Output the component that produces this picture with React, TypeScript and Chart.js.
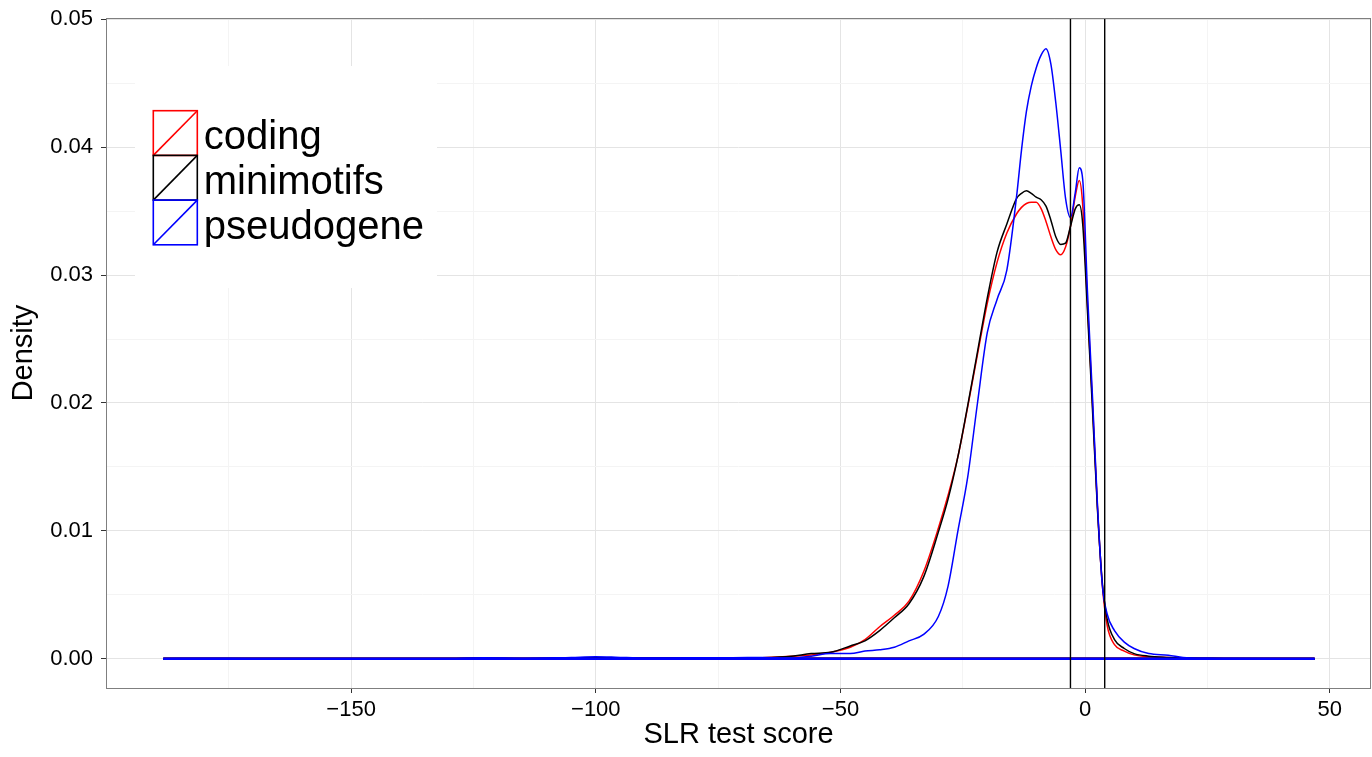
import React, { useEffect, useRef } from 'react';
import { Chart, registerables } from 'chart.js';

Chart.register(...registerables);

// ---- data ----
const xGrid = [
  -188.4, -180, -170, -160, -150, -140, -130, -123, -115, -105, -100, -96, -90, -80, -72, -66,
  -60, -56, -52, -48, -45, -42, -39, -36, -33, -30, -28, -26, -24, -22, -20, -18, -16, -14,
  -13, -12, -11, -10, -9, -8, -7, -6, -5, -4, -3, -2, -1.2, -0.5, 0.5, 1.5, 2.5, 3.5, 4.5,
  6, 8, 10, 13, 17, 20, 25, 30, 40, 46.9,
];

const codingY = [
  0, 0, 0, 0, 0, 0, 0, 0.00003, 0, 0.00005, 0.00008, 0.00008, 0.00003, 0.00004, 0.00005, 0.00008,
  0.0002, 0.0003, 0.0005, 0.0009, 0.0015, 0.0025, 0.0034, 0.0045, 0.0068, 0.0102, 0.0128, 0.0158, 0.0197, 0.0238, 0.0278, 0.031, 0.0333, 0.0348,
  0.0353, 0.0356, 0.0357, 0.0357, 0.0352, 0.0342, 0.033, 0.032, 0.0316, 0.0322, 0.0338, 0.0362, 0.0374, 0.0355, 0.0275, 0.02, 0.012, 0.0058, 0.0026,
  0.0011, 0.0006, 0.0003, 0.00015, 0.0001, 0.00005, 0.00002, 0, 0, 0,
];

const minimotifsY = [
  0, 0, 0, 0, 0, 0, 0, 0.00003, 0, 0.00005, 0.00008, 0.00008, 0.00003, 0.00004, 0.00005, 0.00008,
  0.0002, 0.0004, 0.0005, 0.001, 0.0014, 0.0022, 0.0032, 0.0043, 0.0064, 0.0099, 0.0125, 0.0158, 0.0198, 0.024, 0.0282, 0.0318, 0.034, 0.036,
  0.0364, 0.0366, 0.0364, 0.0361, 0.0359, 0.0354, 0.0343, 0.033, 0.0324, 0.0325, 0.0338, 0.0352, 0.0355, 0.034, 0.027, 0.0195, 0.0118, 0.006, 0.0031,
  0.0015, 0.0008, 0.0004, 0.0002, 0.0001, 0.00005, 0.00002, 0, 0, 0,
];

const pseudogeneY = [
  0, 0.00002, 0, 0, 0, 0, 0, 0.00008, 0.00002, 0.0001, 0.00015, 0.00012, 0.00005, 0.00008, 0.00008, 0.0001,
  0.00005, 0.0002, 0.0004, 0.0004, 0.0006, 0.0007, 0.0009, 0.0014, 0.0019, 0.0033, 0.0057, 0.0100, 0.0142, 0.0200, 0.0255, 0.0281, 0.0304, 0.0362,
  0.0398, 0.0428, 0.0448, 0.0462, 0.0472, 0.0477, 0.0465, 0.0435, 0.0398, 0.036, 0.0345, 0.0365, 0.0384, 0.0375, 0.0285, 0.0205, 0.0122, 0.0058, 0.0035,
  0.0022, 0.0013, 0.0008, 0.0004, 0.00028, 0.0001, 0.00003, 0.00001, 0, 0,
];

const seriesNames = ['coding', 'minimotifs', 'pseudogene'];
const seriesColors = ['#ff0000', '#000000', '#0000ff'];
const vlineX = [-3, 4];
const xMajorTicks = [-150, -100, -50, 0, 50];
const xMinorTicks = [-175, -125, -75, -25, 25];
const yMajorTicks = [0, 0.01, 0.02, 0.03, 0.04, 0.05];
const yMinorTicks = [0.005, 0.015, 0.025, 0.035, 0.045];
const xLimits = [-200.1, 58.42];
const yLimits = [-0.00229, 0.05011];

const FONT = "'Liberation Sans', Arial, Helvetica, sans-serif";

const toPoints = (ys: number[]) => xGrid.map((x, i) => ({ x, y: ys[i] }));

const isMajor = (v: number, majors: number[]) => majors.some((m) => Math.abs(m - v) < 1e-9);

const fmtX = (v: number) => (v < 0 ? '\u2212' + Math.abs(v) : String(v));

const frameAndLegend = {
  id: 'frameAndLegend',
  afterDraw(chart: any) {
    const { ctx, chartArea } = chart;
    const { left, top, right, bottom } = chartArea;
    ctx.save();
    // panel border
    ctx.strokeStyle = '#7f7f7f';
    ctx.lineWidth = 1;
    ctx.strokeRect(left + 0.5, top + 0.5, right - left - 1, bottom - top);
    // legend
    const lx = left + 29;
    const ly = top + 48;
    ctx.fillStyle = '#ffffff';
    ctx.fillRect(lx, ly, 302, 222);
    const kx = left + 47.3;
    const k0 = top + 92.7;
    const kw = 44;
    const kh = 44.7;
    ctx.lineWidth = 1.6;
    ctx.font = `40px ${FONT}`;
    ctx.textBaseline = 'alphabetic';
    ctx.textAlign = 'left';
    seriesNames.forEach((name, i) => {
      const ky = k0 + i * kh;
      ctx.strokeStyle = seriesColors[i];
      ctx.strokeRect(kx, ky, kw, kh);
      ctx.beginPath();
      ctx.moveTo(kx, ky + kh);
      ctx.lineTo(kx + kw, ky);
      ctx.stroke();
      ctx.fillStyle = '#000000';
      ctx.fillText(name, kx + kw + 6.5, ky + 38.6);
    });
    ctx.restore();
  },
};

export default function App() {
  const canvasRef = useRef<HTMLCanvasElement | null>(null);

  useEffect(() => {
    const canvas = canvasRef.current;
    if (!canvas) return;

    const curveSets = [codingY, minimotifsY, pseudogeneY].map((ys, i) => ({
      label: seriesNames[i],
      data: toPoints(ys),
      borderColor: seriesColors[i],
      backgroundColor: seriesColors[i],
      borderWidth: 1.5,
      pointRadius: 0,
      showLine: true,
      fill: false,
      cubicInterpolationMode: 'monotone' as const,
      order: 3 - i + 1,
    }));

    const baselineSets = seriesColors.map((c, i) => ({
      label: 'base' + i,
      data: [
        { x: xGrid[0], y: 0 },
        { x: xGrid[xGrid.length - 1], y: 0 },
      ],
      borderColor: c,
      borderWidth: 2.5,
      pointRadius: 0,
      showLine: true,
      fill: false,
      order: 3 - i + 1,
    }));

    const vlineSets = vlineX.map((vx) => ({
      label: 'v' + vx,
      data: [
        { x: vx, y: yLimits[0] - 1 },
        { x: vx, y: yLimits[1] + 1 },
      ],
      borderColor: '#000000',
      borderWidth: 1.4,
      pointRadius: 0,
      showLine: true,
      fill: false,
      order: 0,
    }));

    const chart = new Chart(canvas, {
      type: 'scatter',
      data: { datasets: [...vlineSets, ...curveSets, ...baselineSets] as any },
      plugins: [frameAndLegend],
      options: {
        responsive: false,
        animation: false,
        layout: { padding: { top: 18, right: 1, bottom: 0, left: 0 } },
        plugins: { legend: { display: false }, tooltip: { enabled: false } },
        scales: {
          x: {
            type: 'linear',
            min: xLimits[0],
            max: xLimits[1],
            afterBuildTicks: (scale: any) => {
              scale.ticks = [...xMinorTicks, ...xMajorTicks]
                .sort((a, b) => a - b)
                .map((v) => ({ value: v }));
            },
            afterFit: (scale: any) => {
              scale.height = 69;
              scale.paddingLeft = 0;
              scale.paddingRight = 0;
            },
            border: { display: false },
            grid: {
              color: (c: any) => (isMajor(c.tick?.value, xMajorTicks) ? '#e4e4e4' : '#f4f4f4'),
              tickColor: (c: any) => (isMajor(c.tick?.value, xMajorTicks) ? '#333333' : 'rgba(0,0,0,0)'),
              tickLength: 5,
              lineWidth: 1,
            },
            ticks: {
              autoSkip: false,
              maxRotation: 0,
              padding: 4,
              color: '#000000',
              font: { family: FONT, size: 22 },
              callback: (v: any) => (isMajor(Number(v), xMajorTicks) ? fmtX(Number(v)) : ''),
            },
            title: {
              display: true,
              text: 'SLR test score',
              color: '#000000',
              font: { family: FONT, size: 29 },
              padding: { top: 0, bottom: 5 },
            },
          },
          y: {
            type: 'linear',
            min: yLimits[0],
            max: yLimits[1],
            afterBuildTicks: (scale: any) => {
              scale.ticks = [...yMajorTicks, ...yMinorTicks]
                .sort((a, b) => a - b)
                .map((v) => ({ value: v }));
            },
            afterFit: (scale: any) => {
              scale.width = 106;
              scale.paddingTop = 0;
              scale.paddingBottom = 0;
            },
            border: { display: false },
            grid: {
              color: (c: any) => (isMajor(c.tick?.value, yMajorTicks) ? '#e4e4e4' : '#f4f4f4'),
              tickColor: (c: any) => (isMajor(c.tick?.value, yMajorTicks) ? '#333333' : 'rgba(0,0,0,0)'),
              tickLength: 5,
              lineWidth: 1,
            },
            ticks: {
              autoSkip: false,
              padding: 8,
              color: '#000000',
              font: { family: FONT, size: 22 },
              callback: (v: any) => (isMajor(Number(v), yMajorTicks) ? Number(v).toFixed(2) : ''),
            },
            title: {
              display: true,
              text: 'Density',
              color: '#000000',
              font: { family: FONT, size: 29 },
              padding: { top: 7, bottom: 0 },
            },
          },
        },
      } as any,
    });

    return () => {
      chart.destroy();
    };
  }, []);

  return (
    <div style={{ position: 'fixed', left: 0, top: 0, width: 1372, height: 757, background: '#ffffff' }}>
      <canvas ref={canvasRef} width={1372} height={757} style={{ display: 'block' }} />
    </div>
  );
}
